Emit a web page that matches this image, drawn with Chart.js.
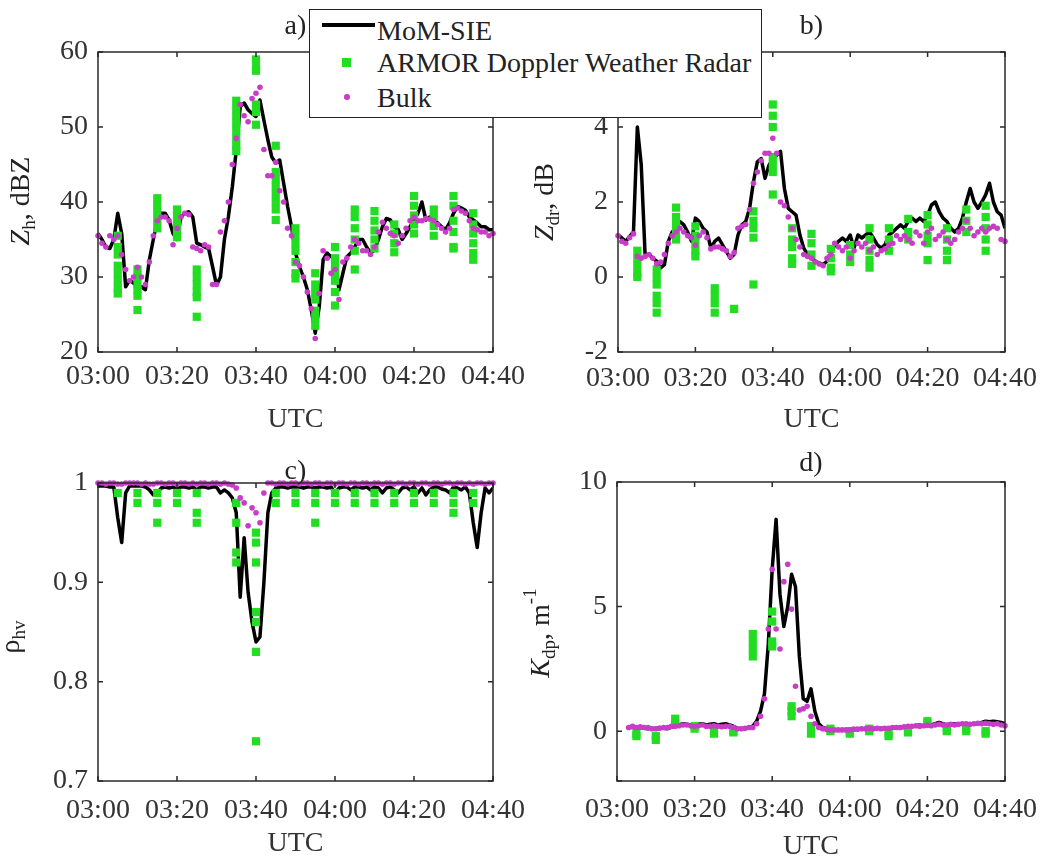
<!DOCTYPE html>
<html>
<head>
<meta charset="utf-8">
<title>Radar variables, MoM-SIE vs ARMOR vs Bulk</title>
<script src="https://cdn.jsdelivr.net/npm/chart.js@4.4.1/dist/chart.umd.min.js"></script>
<style>
  html, body { margin: 0; padding: 0; background: #fff; }
  #wrap { position: relative; width: 1056px; height: 864px; overflow: hidden; }
  #wrap canvas { position: absolute; left: 0; top: 0; }
  #legend {
    position: absolute; left: 309px; top: 9px; width: 453px; height: 109px;
    box-sizing: border-box; border: 1.5px solid #222; background: #fff;
    font: 28px "Liberation Serif", "Times New Roman", serif; color: #222;
  }
  #legend .txt { position: absolute; left: 67px; line-height: 32px; white-space: nowrap; }
  #legend .line { position: absolute; left: 12px; top: 13px; width: 53px; height: 3.5px; background: #000; }
  #legend .sq { position: absolute; left: 32px; top: 48px; width: 9px; height: 9px; background: #22dd22; }
  #legend .dot { position: absolute; left: 34px; top: 84px; width: 5.5px; height: 5.5px; border-radius: 50%; background: #c83cc8; }
</style>
</head>
<body>
<div id="wrap">
  <canvas id="zh" width="1056" height="864"></canvas>
  <canvas id="zdr" width="1056" height="864"></canvas>
  <canvas id="rho" width="1056" height="864"></canvas>
  <canvas id="kdp" width="1056" height="864"></canvas>
  <div id="legend">
    <div class="line"></div><div class="txt" style="top:5px">MoM-SIE</div>
    <div class="sq"></div><div class="txt" style="top:37px">ARMOR Doppler Weather Radar</div>
    <div class="dot"></div><div class="txt" style="top:72px">Bulk</div>
  </div>
</div>
<script>
// minutes after 03:00, one sample per minute
const minutes = Array.from({ length: 101 }, (_, i) => i);
const timeTicks = [0, 20, 40, 60, 80, 100];
const timeLabels = ['03:00', '03:20', '03:40', '04:00', '04:20', '04:40'];

// ARMOR scans every 5 minutes, several range gates per scan
const armorTimes = [5, 10, 15, 20, 25, 30, 35, 40, 45, 50, 55, 60, 65, 70, 75, 80, 85, 90, 95];

// a) Zh, dBZ
const zhMom = [
  35.8, 35, 34, 33.8, 35, 38.5, 35.8, 28.7, 29.6, 29.2,
  28.7, 28.7, 28.3, 32.3, 35, 37.6, 38.5, 38.5, 37.6, 35.8,
  35, 38, 38.5, 38.7, 38, 34.5, 34.3, 34, 33.8, 31.4,
  28.9, 30, 35, 38, 42, 46.9, 52.7, 53.2, 52.3, 51.8,
  51.4, 53.6, 50.9, 48.3, 46, 45.2, 45.6, 42.5, 39.4, 36.7,
  33.2, 31.4, 30, 28.3, 25.6, 22.5, 26, 32.3, 33.2, 32.7,
  32.7, 28.3, 30.5, 32.7, 33.2, 34, 35, 35, 34, 33.2,
  33.6, 35, 36.7, 37.8, 37.6, 36.7, 36.3, 35, 35.8, 36.7,
  37.6, 38.5, 40, 37.6, 38, 37.6, 37.2, 36.7, 36.3, 37.2,
  38.5, 39.4, 39.2, 38.9, 38, 37.6, 37.2, 36.7, 36.7, 36.3,
  36.3
];
const zhBulk = [
  35.5, 34.5, 34, 35.5, 35, 35.5, 33, 31, 29.5, 30,
  31.3, 30, 29, 32, 35.5, 37.5, 38, 38, 37.5, 34.3,
  36.5, 38, 38.5, 38.3, 34, 33.8, 33.5, 34.3, 34, 29,
  29, 36, 37.5, 40, 45, 48.5, 53, 51.5, 50.7, 53.8,
  54.5, 55.3, 47, 43.5, 43.5, 45.3, 41.5, 40, 36.5, 35.5,
  32, 31.5, 30, 28, 25.8, 21.8, 27.8, 33.5, 32.5, 30.5,
  31, 27, 32, 32.5, 34, 35, 34.5, 33.5, 33.5, 33,
  34, 36, 37.3, 36.5, 35.8, 35.5, 34.5, 35.5, 36.5, 37.5,
  38, 37.5, 37.5, 37.8, 37.7, 37.5, 37, 36.5, 36, 36.5,
  39, 39.2, 38.8, 38.5, 37.5, 36.5, 36.3, 36, 36, 35.5,
  35.8
];
const zhArmor = [
  [35.5, 34, 33, 31.5, 30.5, 29.5, 28.5, 27.8],
  [31, 30, 29, 28.3, 27.5, 25.6],
  [40.5, 39.5, 38.5, 37.5, 36.5],
  [39, 38, 37, 36, 35.3],
  [31, 30, 29, 28, 27.3, 24.7],
  [],
  [53.5, 52.5, 51.5, 50.5, 49.5, 48.5, 47.5, 46.8],
  [59, 58, 57.5, 53, 52, 50.3],
  [47.5, 44, 43, 42, 41, 40, 39, 37.6],
  [36.5, 35.5, 34.5, 33.5, 32, 30.5, 29.8],
  [30.5, 29, 28, 27, 25.5, 24.5, 23.5],
  [34, 32.5, 31.5, 30.5, 29.5, 28, 26.2],
  [39, 38, 36.5, 35, 33.5, 31],
  [38.8, 37.5, 36.2, 35, 33.8],
  [37, 35.8, 34.5, 33.3],
  [40.8, 39.5, 38.2, 37, 35.8],
  [39, 38, 36.8, 35.5],
  [40.8, 39.5, 37.5, 36, 34, 33.8],
  [38.5, 37, 35.8, 34.5, 33.2, 32.3]
];
const zhTicks = [20, 30, 40, 50, 60];

// b) Zdr, dB
const zdrMom = [
  1.12, 1.04, 0.95, 1.08, 1.2, 4.0, 3.0, 0.6, 0.6, 0.5,
  0.42, 0.24, 0.33, 0.95, 1.2, 1.3, 1.48, 1.39, 1.2, 0.95,
  1.57, 1.48, 1.3, 1.2, 0.77, 0.95, 1.04, 0.86, 0.68, 0.5,
  0.6, 1.12, 1.39, 1.48, 1.83, 2.54, 3.07, 3.16, 2.63, 2.98,
  3.16, 3.25, 3.35, 2.36, 1.83, 1.74, 1.65, 1.12, 0.77, 0.6,
  0.5, 0.42, 0.37, 0.33, 0.42, 0.6, 0.86, 0.95, 1.04, 0.95,
  1.12, 0.77, 1.12, 1.04, 1.12, 1.2, 1.04, 0.86, 0.77, 0.86,
  1.12, 1.2, 1.3, 1.39, 1.3, 1.48, 1.57, 1.48, 1.57, 1.48,
  1.65, 1.92, 2.0, 1.74, 1.57, 1.48, 1.3, 1.2, 1.3, 1.57,
  2.0, 2.36, 2.0, 1.83, 2.0, 2.19, 2.5, 2.0, 1.74, 1.65,
  1.3
];
const zdrBulk = [
  1.1, 0.95, 0.9, 1.05, 1.15, 0.55, 0.5, 0.55, 0.6, 0.5,
  0.35, 0.4, 0.6, 0.9, 1.1, 1.2, 1.3, 1.2, 1.1, 1.05,
  0.85, 1.1, 1.2, 1.05, 0.75, 0.8, 0.8, 0.75, 0.7, 0.55,
  0.65, 1.3, 1.35, 1.4, 1.8, 2.5, 2.8, 3.1, 3.3, 3.3,
  3.7, 3.3, 2.0, 1.9, 1.6, 1.3, 1.0, 0.8, 0.6, 0.55,
  0.5, 0.4, 0.35, 0.3, 0.5, 0.6, 0.9, 0.8, 0.7, 0.8,
  0.5, 0.7, 0.9, 0.8, 0.9, 0.7, 0.8, 0.6, 0.7, 0.75,
  0.85, 0.9, 1.1, 1.0, 1.1, 1.0, 0.9, 1.2, 1.1, 0.9,
  1.2, 1.3, 1.0, 1.1, 1.2, 1.0, 0.9, 1.0, 1.2, 1.3,
  1.5, 1.3, 1.1, 1.2, 1.3, 1.2, 1.3, 1.35, 1.3, 1.0,
  0.95
];
const zdrArmor = [
  [0.7, 0.5, 0.3, 0.1, 0.0],
  [0.2, 0.0, -0.2, -0.5, -0.7, -0.95],
  [1.85, 1.6, 1.4, 1.2, 1.0],
  [1.35, 1.1, 0.9, 0.7, 0.55],
  [-0.3, -0.5, -0.7, -0.95],
  [-0.85],
  [1.75, 1.5, 1.3, 1.05, -0.2],
  [4.6, 4.3, 4.0, 3.2, 3.0, 2.8, 2.2],
  [1.3, 1.0, 0.8, 0.5, 0.35],
  [1.15, 0.9, 0.6, 0.3],
  [0.75, 0.5, 0.25, 0.15],
  [0.85, 0.6, 0.4],
  [1.3, 1.0, 0.7, 0.45, 0.25],
  [1.3, 1.0, 0.7],
  [1.55, 1.2, 1.0],
  [1.65, 1.4, 1.1, 0.9, 0.45],
  [1.3, 1.0, 0.7, 0.45],
  [1.8, 1.5, 1.2],
  [1.9, 1.6, 1.3, 1.0, 0.7]
];
const zdrTicks = [-2, 0, 2, 4, 6];

// c) rho_hv
const rhoMom = [
  0.997, 0.997, 0.997, 0.996, 0.996, 0.965, 0.94, 0.99, 0.997, 0.997,
  0.997, 0.997, 0.996, 0.993, 0.988, 0.99, 0.995, 0.996, 0.995, 0.996,
  0.994, 0.996, 0.996, 0.995, 0.996, 0.993, 0.996, 0.996, 0.995, 0.996,
  0.996, 0.99, 0.993, 0.99, 0.985, 0.97, 0.885, 0.945, 0.89, 0.86,
  0.84, 0.845, 0.9, 0.97, 0.99, 0.995, 0.996, 0.996, 0.995, 0.996,
  0.996, 0.996, 0.995, 0.996, 0.996, 0.995, 0.996, 0.996, 0.995, 0.996,
  0.99, 0.995, 0.996, 0.996, 0.993, 0.996, 0.996, 0.995, 0.996, 0.993,
  0.996, 0.995, 0.99, 0.995, 0.996, 0.993, 0.99, 0.995, 0.996, 0.993,
  0.996, 0.99, 0.995, 0.988, 0.993, 0.996, 0.996, 0.994, 0.993, 0.99,
  0.996, 0.995, 0.993, 0.996, 0.99, 0.96, 0.935, 0.97, 0.995, 0.99,
  0.995
];
const rhoBulk = [
  1, 1, 0.999, 1, 1, 0.999, 0.999, 1, 1, 1,
  1, 0.999, 1, 0.999, 0.999, 1, 1, 0.999, 1, 1,
  0.999, 1, 1, 0.999, 1, 0.999, 1, 1, 0.999, 1,
  1, 0.999, 1, 0.999, 0.998, 0.995, 0.985, 0.98, 0.957, 0.975,
  0.97, 0.96, 0.99, 1, 1, 0.999, 1, 1, 0.999, 1,
  1, 0.999, 1, 1, 0.999, 1, 1, 0.999, 1, 1,
  0.999, 1, 1, 0.999, 1, 1, 0.999, 1, 1, 0.999,
  1, 1, 0.999, 1, 1, 0.999, 1, 1, 0.999, 1,
  1, 0.999, 1, 1, 0.999, 1, 1, 0.999, 1, 1,
  0.999, 1, 1, 0.999, 1, 0.999, 1, 1, 0.999, 1,
  1
];
const rhoArmor = [
  [0.99],
  [0.99, 0.98],
  [0.99, 0.98, 0.96],
  [0.99, 0.98],
  [0.99, 0.97, 0.96],
  [],
  [0.98, 0.96, 0.93, 0.92],
  [0.95, 0.94, 0.92, 0.87, 0.86, 0.83, 0.74],
  [0.99, 0.98],
  [0.99, 0.98],
  [0.99, 0.98, 0.96],
  [0.99, 0.98],
  [0.99, 0.98],
  [0.99, 0.98],
  [0.99, 0.98],
  [0.99, 0.98],
  [0.99, 0.98],
  [0.99, 0.98, 0.97],
  [0.99, 0.98]
];
const rhoTicks = [0.7, 0.8, 0.9, 1];
const rhoTickLabels = ['0.7', '0.8', '0.9', '1'];

// d) Kdp (no samples before 03:03)
const kdpMom = [
  null, null, null, 0.15, 0.15, 0.12, 0.15, 0.12, 0.1, 0.12,
  0.1, 0.15, 0.12, 0.1, 0.15, 0.2, 0.25, 0.3, 0.28, 0.25,
  0.25, 0.28, 0.3, 0.25, 0.28, 0.3, 0.25, 0.28, 0.3, 0.25,
  0.2, 0.12, 0.1, 0.12, 0.15, 0.2, 0.4, 0.8, 1.5, 3.5,
  6.5, 8.5, 5.5, 4.2, 5.0, 6.3, 5.8, 3.0, 1.3, 1.2,
  1.7, 0.8, 0.3, 0.15, 0.1, 0.08, 0.05, 0.05, 0.05, 0.05,
  0.05, 0.05, 0.08, 0.08, 0.1, 0.1, 0.1, 0.12, 0.12, 0.1,
  0.12, 0.12, 0.15, 0.15, 0.15, 0.18, 0.2, 0.22, 0.25, 0.2,
  0.22, 0.25, 0.3, 0.35, 0.3, 0.25, 0.3, 0.3, 0.28, 0.3,
  0.3, 0.28, 0.3, 0.3, 0.35, 0.4, 0.38, 0.4, 0.38, 0.35,
  0.3
];
const kdpBulk = [
  null, null, null, 0.15, 0.2, 0.15, 0.18, 0.15, 0.15, 0.1,
  0.1, 0.12, 0.15, 0.15, 0.2, 0.2, 0.22, 0.25, 0.25, 0.22,
  0.2, 0.22, 0.25, 0.2, 0.2, 0.22, 0.2, 0.18, 0.2, 0.2,
  0.15, 0.1, 0.1, 0.12, 0.15, 0.15, 0.3, 0.6, 1.3, 4.1,
  6.5, 4.1, 3.3, 6.0, 6.7, 4.9, 1.8, 0.85, 0.9, 1.0,
  0.6, 0.3, 0.15, 0.1, 0.08, 0.05, 0.05, 0.05, 0.05, 0.05,
  0.05, 0.08, 0.08, 0.1, 0.1, 0.12, 0.1, 0.12, 0.1, 0.12,
  0.12, 0.15, 0.15, 0.15, 0.18, 0.2, 0.2, 0.22, 0.2, 0.22,
  0.25, 0.22, 0.25, 0.28, 0.25, 0.25, 0.28, 0.25, 0.28, 0.3,
  0.3, 0.28, 0.3, 0.32, 0.3, 0.32, 0.3, 0.28, 0.3, 0.25,
  0.22
];
const kdpArmor = [
  [-0.1, -0.2],
  [-0.2, -0.35],
  [0.5, 0.3],
  [0.2, 0.1],
  [0.0, -0.1],
  [0.0, -0.05],
  [3.9, 3.6, 3.3, 3.0],
  [4.8, 4.4, 3.6, 3.4],
  [1.0, 0.8, 0.6],
  [0.2, -0.1],
  [0.1, 0.0],
  [0.0, -0.1],
  [0.1, 0.0],
  [-0.1, -0.2],
  [0.0, -0.05],
  [0.4, 0.3],
  [0.1, 0.0],
  [0.1, 0.0],
  [0.0, -0.1]
];
const kdpTicks = [0, 5, 10];

const SERIF = '"Liberation Serif", "Times New Roman", serif';
const GREEN = '#22dd22';
const MAGENTA = '#c83cc8';
const INK = '#2a2a2a';

Chart.defaults.font.family = SERIF;
Chart.defaults.color = '#333';

function seriesPoints(values) {
  return minutes.map((m, i) => ({ x: m, y: values[i] }));
}

function scanPoints(groups) {
  const pts = [];
  groups.forEach((g, i) => g.forEach(v => pts.push({ x: armorTimes[i], y: v })));
  return pts;
}

// draws the axes box with inward ticks, the panel letter and the y-axis label
const panelFrame = {
  id: 'panelFrame',
  afterDatasetsDraw(chart) {
    const { ctx, chartArea: a, scales: { x, y } } = chart;
    ctx.save();
    ctx.strokeStyle = INK;
    ctx.lineWidth = 1.5;
    ctx.strokeRect(a.left, a.top, a.right - a.left, a.bottom - a.top);
    ctx.beginPath();
    x.ticks.forEach(t => {
      const px = x.getPixelForValue(t.value);
      ctx.moveTo(px, a.bottom); ctx.lineTo(px, a.bottom - 5);
      ctx.moveTo(px, a.top); ctx.lineTo(px, a.top + 5);
    });
    y.ticks.forEach(t => {
      const py = y.getPixelForValue(t.value);
      ctx.moveTo(a.left, py); ctx.lineTo(a.left + 5, py);
      ctx.moveTo(a.right, py); ctx.lineTo(a.right - 5, py);
    });
    ctx.stroke();
    ctx.restore();
  },
  afterDraw(chart, args, opts) {
    const { ctx, chartArea: a } = chart;
    ctx.save();
    ctx.fillStyle = '#222';
    ctx.textBaseline = 'middle';
    ctx.textAlign = 'center';
    ctx.font = '28px ' + SERIF;
    ctx.fillText(opts.letter, (a.left + a.right) / 2, opts.letterY);

    // rotated label made of normal / italic / sub / sup runs
    const fontOf = p => (p.i ? 'italic ' : '') + (p.s ? '19px ' : '28px ') + SERIF;
    ctx.translate(opts.titleX, opts.titleY);
    ctx.rotate(-Math.PI / 2);
    ctx.textAlign = 'left';
    let w = 0;
    opts.title.forEach(p => { ctx.font = fontOf(p); w += ctx.measureText(p.t).width; });
    let u = -w / 2;
    opts.title.forEach(p => {
      ctx.font = fontOf(p);
      const dv = p.s === 'sub' ? 8 : p.s === 'sup' ? -11 : 0;
      ctx.fillText(p.t, u, dv);
      u += ctx.measureText(p.t).width;
    });
    ctx.restore();
  }
};

function makePanel(id, p) {
  const [left, top, right, bottom] = p.plot;
  return new Chart(document.getElementById(id), {
    type: 'scatter',
    data: {
      datasets: [
        {
          label: 'MoM-SIE', data: seriesPoints(p.mom), showLine: true,
          borderColor: '#000', borderWidth: 3.5, borderJoinStyle: 'round',
          pointRadius: 0, spanGaps: false, order: 3
        },
        {
          label: 'ARMOR Doppler Weather Radar', data: scanPoints(p.armor),
          pointStyle: 'rect', pointRadius: 5.8, backgroundColor: GREEN,
          borderWidth: 0, clip: false, order: 2
        },
        {
          label: 'Bulk', data: seriesPoints(p.bulk), pointRadius: 2.8,
          backgroundColor: MAGENTA, borderWidth: 0, clip: false, order: 1
        }
      ]
    },
    options: {
      responsive: false,
      animation: false,
      devicePixelRatio: 1,
      layout: { padding: { left: left - 60, top: top, right: 1056 - right, bottom: 864 - bottom - p.xHeight } },
      plugins: {
        legend: { display: false },
        tooltip: { enabled: false },
        panelFrame: { letter: p.letter, letterY: p.letterY, titleX: p.titleX, titleY: p.titleY, title: p.title }
      },
      scales: {
        x: {
          type: 'linear', min: 0, max: 100,
          afterBuildTicks: s => { s.ticks = timeTicks.map(v => ({ value: v })); },
          afterFit: s => { s.height = p.xHeight; },
          grid: { display: false, drawTicks: false },
          border: { display: false },
          ticks: {
            autoSkip: false, maxRotation: 0, padding: p.xPad,
            font: { size: 28 },
            callback: (v, i) => timeLabels[i]
          },
          title: { display: true, text: 'UTC', font: { size: 28 }, padding: 0 }
        },
        y: {
          type: 'linear', min: p.yTicks[0], max: p.yTicks[p.yTicks.length - 1],
          afterBuildTicks: s => { s.ticks = p.yTicks.map(v => ({ value: v })); },
          afterFit: s => { s.width = 60; },
          grid: { display: false, drawTicks: false },
          border: { display: false },
          ticks: {
            autoSkip: false, padding: 10,
            font: { size: 28 },
            callback: (v, i) => (p.yLabels ? p.yLabels[i] : String(v))
          }
        }
      }
    },
    plugins: [panelFrame]
  });
}

makePanel('zh', {
  plot: [98, 52, 493, 352], xHeight: 84, xPad: 8,
  mom: zhMom, bulk: zhBulk, armor: zhArmor, yTicks: zhTicks,
  letter: 'a)', letterY: 27, titleX: 22, titleY: 201,
  title: [{ t: 'Z', i: true }, { t: 'h', s: 'sub' }, { t: ', dBZ' }]
});
makePanel('zdr', {
  plot: [618, 52, 1005, 352], xHeight: 84, xPad: 10,
  mom: zdrMom, bulk: zdrBulk, armor: zdrArmor, yTicks: zdrTicks,
  letter: 'b)', letterY: 27, titleX: 546, titleY: 202,
  title: [{ t: 'Z', i: true }, { t: 'dr', s: 'sub' }, { t: ', dB' }]
});
makePanel('rho', {
  plot: [98, 483, 493, 781], xHeight: 79, xPad: 13,
  mom: rhoMom, bulk: rhoBulk, armor: rhoArmor, yTicks: rhoTicks, yLabels: rhoTickLabels,
  letter: 'c)', letterY: 472, titleX: 12, titleY: 637,
  title: [{ t: 'ρ' }, { t: 'hv', s: 'sub' }]
});
makePanel('kdp', {
  plot: [617, 482, 1005, 781], xHeight: 82, xPad: 12,
  mom: kdpMom, bulk: kdpBulk, armor: kdpArmor, yTicks: [-2].concat(kdpTicks),
  yLabels: ['', '0', '5', '10'],
  letter: 'd)', letterY: 464, titleX: 542, titleY: 633,
  title: [{ t: 'K', i: true }, { t: 'dp', s: 'sub' }, { t: ', m' }, { t: '-1', s: 'sup' }]
});
</script>
</body>
</html>
